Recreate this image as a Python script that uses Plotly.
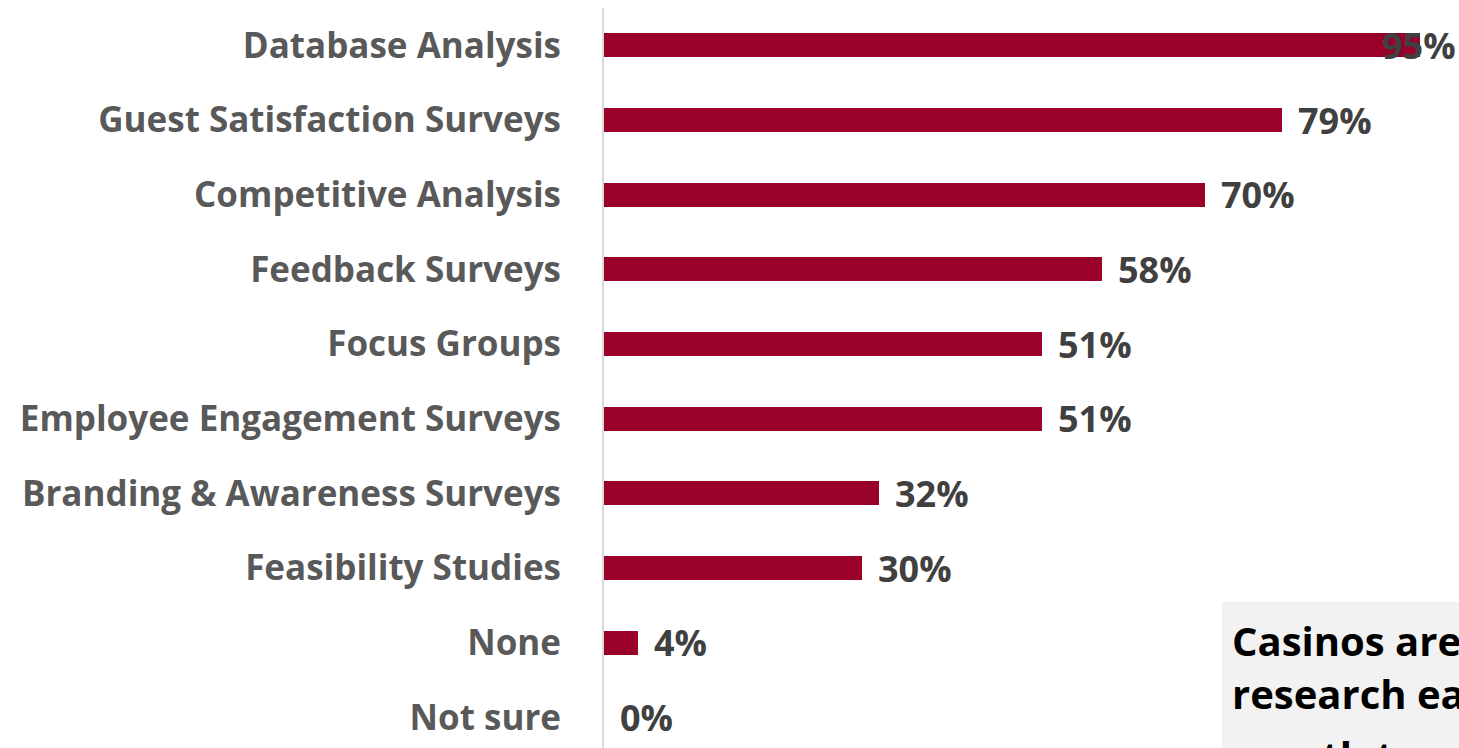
import plotly.graph_objects as go

# Research methods used, share of respondents (%)
categories = [
    "Database Analysis",
    "Guest Satisfaction Surveys",
    "Competitive Analysis",
    "Feedback Surveys",
    "Focus Groups",
    "Employee Engagement Surveys",
    "Branding & Awareness Surveys",
    "Feasibility Studies",
    "None",
    "Not sure",
]
values = [95, 79, 70, 58, 51, 51, 32, 30, 4, 0]
value_labels = ["95%", "79%", "70%", "58%", "51%", "51%", "32%", "30%", "4%", "0%"]

callout_lines = ["Casinos are using", "research each and", "month to month"]

W, H = 1459, 748
M_L, M_R, M_T, M_B = 604, 0, 8, 0
X_MAX = 99.6

BAR_COLOR = "#99002a"
LABEL_FONT = "Open Sans"

positions = list(range(len(categories)))

fig = go.Figure()
fig.add_trace(go.Bar(
    x=values,
    y=positions,
    orientation="h",
    width=0.32,
    marker=dict(color=BAR_COLOR, line=dict(width=0)),
    hoverinfo="skip",
))

annotations = []
for pos, v, lab in zip(positions, values, value_labels):
    # labels that would run past the plot edge are pulled back inside
    if v > 90:
        annotations.append(dict(x=X_MAX, y=pos, xref="x", yref="y", text=f"<b>{lab}</b>",
                                showarrow=False, xanchor="right", yanchor="middle", xshift=-1,
                                font=dict(family=LABEL_FONT, size=36, color="#404040")))
    else:
        annotations.append(dict(x=v, y=pos, xref="x", yref="y", text=f"<b>{lab}</b>",
                                showarrow=False, xanchor="left", yanchor="middle", xshift=14,
                                font=dict(family=LABEL_FONT, size=36, color="#404040")))

# callout box in the lower right corner
plot_w = W - M_L - M_R
plot_h = H - M_T - M_B
bx0 = (1222 - M_L) / plot_w
by1 = (H - 602) / plot_h
fig.add_shape(type="rect", xref="paper", yref="paper", x0=bx0, x1=1.05, y0=-0.05, y1=by1,
              fillcolor="#f2f2f2", line=dict(width=0), layer="above")
for line, base_px in zip(callout_lines, [661, 714, 776]):
    annotations.append(dict(x=(1230 - M_L) / plot_w, y=(H - base_px) / plot_h, xref="paper", yref="paper",
                            text=f"<b>{line}</b>", showarrow=False, xanchor="left", yanchor="bottom",
                            yshift=-9,
                            font=dict(family=LABEL_FONT, size=40, color="#000000")))

fig.update_layout(
    width=W, height=H,
    margin=dict(l=M_L, r=M_R, t=M_T, b=M_B, pad=0),
    paper_bgcolor="white", plot_bgcolor="white",
    showlegend=False,
    bargap=0,
    annotations=annotations,
    xaxis=dict(range=[0, X_MAX], visible=False, fixedrange=True),
    yaxis=dict(
        range=[9.41, -0.5],
        tickvals=positions, ticktext=[f"<b>{c}</b>" for c in categories],
        tickfont=dict(family=LABEL_FONT, size=35, color="#595959"),
        ticks="", showgrid=False, zeroline=False,
        showline=True, linecolor="#d9d9d9", linewidth=2,
        ticklabelstandoff=34,
        fixedrange=True,
    ),
)

fig.write_html("out.html", config={"displayModeBar": False})
